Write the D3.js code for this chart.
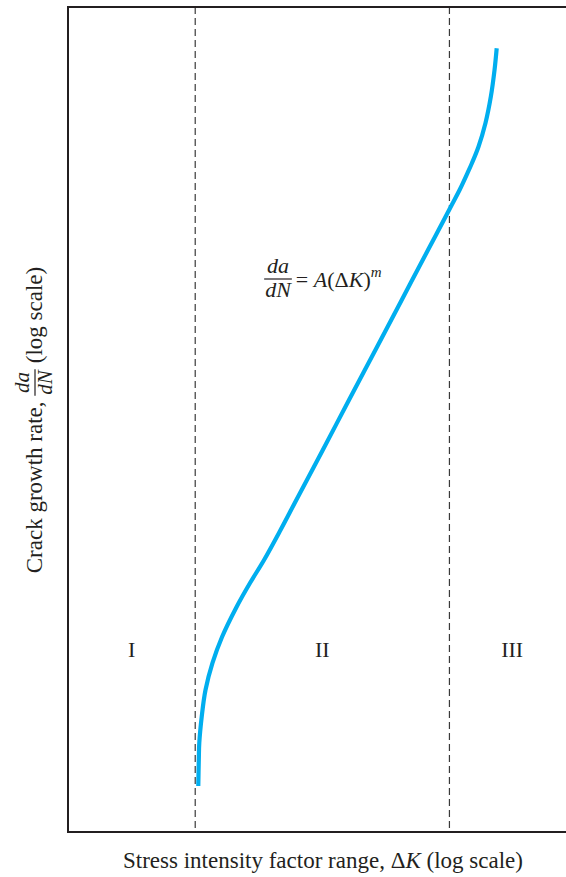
<!DOCTYPE html>
<html><head><meta charset="utf-8">
<script src="https://cdn.jsdelivr.net/npm/d3@7"></script>
<style>body{margin:0;background:#fff} svg{display:block}</style>
</head><body>
<svg id="chart" width="566" height="877"></svg>
<script>
// Data (log-log)
const deltaK = [3.228, 3.243, 3.257, 3.329, 3.444, 3.668, 3.996, 4.560, 5.140, 5.832, 6.763, 7.796, 9.893, 12.52, 15.88, 20.12, 25.48, 28.29, 31.28, 33.85, 36.35, 37.85, 40.13, 42.74, 44.84, 46.36, 47.27];
const dadN   = [2.162e-10, 3.340e-10, 4.44e-10, 6.90e-10, 1.078e-9, 1.695e-9, 2.619e-9, 4.35e-9, 6.47e-9, 9.51e-9, 1.571e-8, 2.597e-8, 6.00e-8, 1.386e-7, 3.202e-7, 7.40e-7, 1.709e-6, 2.47e-6, 3.53e-6, 4.668e-6, 6.20e-6, 7.34e-6, 9.64e-6, 1.434e-5, 2.226e-5, 3.48e-5, 5.01e-5];
const regionBounds = [3.14, 30.9];
const regionLabels = ["I", "II", "III"];
const xDomain = [1, 100];
const yDomain = [1e-10, 1e-4];

const FONT = "'Liberation Serif','Times New Roman',serif";
const TXT = "#231f20";
const pLeft = 68, pTop = 7, pRight = 575, pBottom = 832;

const svg = d3.select("#chart");
const x = d3.scaleLog().domain(xDomain).range([pLeft, 580]);
const y = d3.scaleLog().domain(yDomain).range([pBottom, pTop]);

// region dashed lines
svg.selectAll("line.bound").data(regionBounds).join("line")
  .attr("class", "bound")
  .attr("x1", d => x(d)).attr("x2", d => x(d))
  .attr("y1", pTop).attr("y2", pBottom)
  .attr("stroke", "#3a3a3a").attr("stroke-width", 1.2)
  .attr("stroke-dasharray", "7,4");

// curve
const pts = deltaK.map((k, i) => ({k, r: dadN[i]}));
const line = d3.line().x(d => x(d.k)).y(d => y(d.r)).curve(d3.curveCatmullRom.alpha(0.5));
svg.append("path").datum(pts)
  .attr("d", line).attr("fill", "none")
  .attr("stroke", "#00aeef").attr("stroke-width", 4.2);

// frame
svg.append("rect").attr("x", pLeft).attr("y", pTop)
  .attr("width", pRight - pLeft + 40).attr("height", pBottom - pTop)
  .attr("fill", "none").attr("stroke", "#231f20").attr("stroke-width", 2);

// region labels
const edges = [pLeft, x(regionBounds[0]), x(regionBounds[1]), pRight];
svg.selectAll("text.reg").data(regionLabels).join("text")
  .attr("class", "reg")
  .attr("x", (d, i) => (edges[i] + edges[i + 1]) / 2)
  .attr("y", 657)
  .attr("text-anchor", "middle")
  .attr("font-family", FONT).attr("font-size", 22).attr("fill", TXT)
  .text(d => d);

// fraction helper
function fraction(g, num, den, cx, barY, size) {
  const n = g.append("text").attr("x", cx).attr("y", barY - 6)
    .attr("text-anchor", "middle").attr("font-family", FONT).attr("font-size", size)
    .attr("font-style", "italic").attr("fill", TXT).text(num);
  const dd = g.append("text").attr("x", cx).attr("y", barY + size * 0.8)
    .attr("text-anchor", "middle").attr("font-family", FONT).attr("font-size", size)
    .attr("font-style", "italic").attr("fill", TXT).text(den);
  const w = Math.max(n.node().getComputedTextLength(), dd.node().getComputedTextLength()) + 2;
  g.append("line").attr("x1", cx - w / 2).attr("x2", cx + w / 2)
    .attr("y1", barY).attr("y2", barY).attr("stroke", TXT).attr("stroke-width", 1.2);
  return cx + w / 2;
}

// equation
const eq = svg.append("g");
const eqSize = 22;
const eqR = fraction(eq, "da", "dN", 278, 279, eqSize);
const eqT = eq.append("text").attr("x", eqR + 4).attr("y", 287)
  .attr("font-family", FONT).attr("font-size", eqSize).attr("fill", TXT);
eqT.append("tspan").text("= ");
eqT.append("tspan").attr("font-style", "italic").text("A");
eqT.append("tspan").text("(\u0394");
eqT.append("tspan").attr("font-style", "italic").text("K");
eqT.append("tspan").text(")");
eqT.append("tspan").attr("font-style", "italic").attr("font-size", 15).attr("dy", -10).text("m");

// x axis label
const xl = svg.append("text").attr("x", 323).attr("y", 868)
  .attr("text-anchor", "middle").attr("font-family", FONT).attr("font-size", 23).attr("fill", TXT);
xl.append("tspan").text("Stress intensity factor range, \u0394");
xl.append("tspan").attr("font-style", "italic").text("K");
xl.append("tspan").text(" (log scale)");

// y axis label (rotated, with fraction)
const yg = svg.append("g");
const ySize = 23;
const t1 = yg.append("text").attr("x", 0).attr("y", 0)
  .attr("font-family", FONT).attr("font-size", ySize).attr("fill", TXT)
  .text("Crack growth rate,");
const w1 = t1.node().getComputedTextLength();
const fr = yg.append("g");
const fracR = fraction(fr, "da", "dN", w1 + 19, -7, 21);
const t2 = yg.append("text").attr("x", fracR + 6).attr("y", 0)
  .attr("font-family", FONT).attr("font-size", ySize).attr("fill", TXT)
  .text("(log scale)");
const total = fracR + 6 + t2.node().getComputedTextLength();
yg.attr("transform", `translate(42,${420 + total / 2}) rotate(-90)`);
</script>
</body></html>
